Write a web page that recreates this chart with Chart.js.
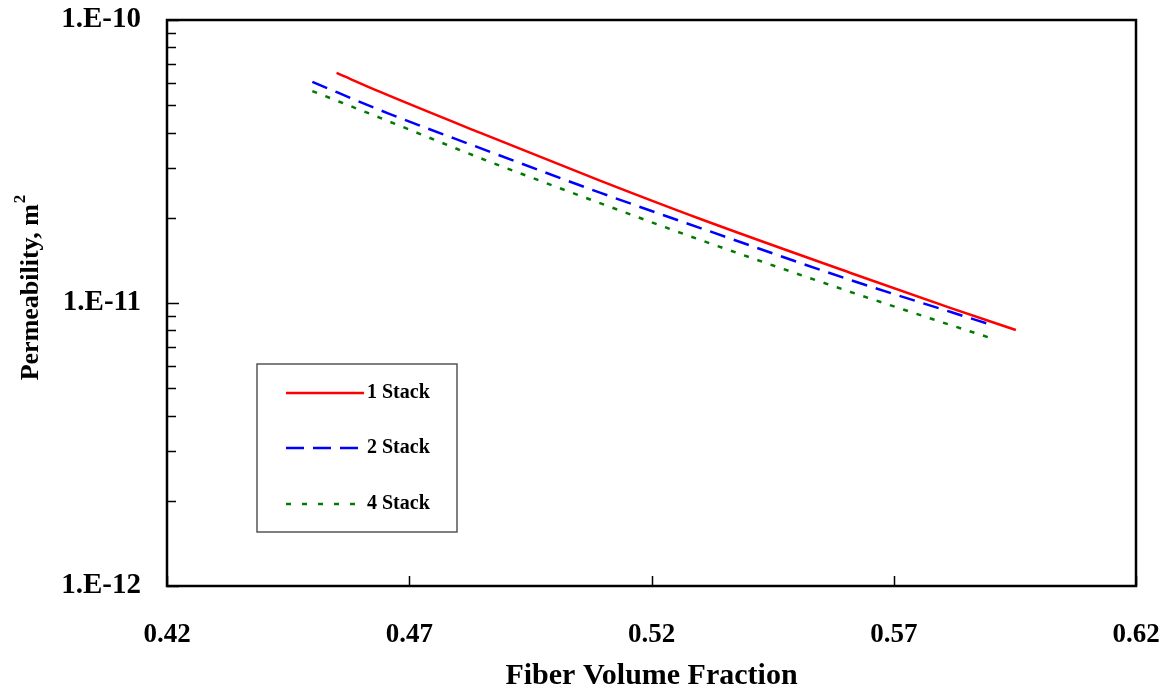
<!DOCTYPE html>
<html>
<head>
<meta charset="utf-8">
<script src="https://cdn.jsdelivr.net/npm/chart.js@4.4.1/dist/chart.umd.min.js"></script>
<style>
  html, body { margin: 0; padding: 0; background: #fff; }
  #wrap { width: 1169px; height: 694px; }
</style>
</head>
<body>
<div id="wrap"><canvas id="c" width="1169" height="694"></canvas></div>
<script>
// === Data ===
const stack1X = [0.455, 0.464, 0.4847, 0.5095, 0.5301, 0.5611, 0.5818, 0.5952];
const stack1Y = [6.50e-11, 5.57e-11, 3.99e-11, 2.70e-11, 1.98e-11, 1.277e-11, 9.59e-12, 8.03e-12];

const stack2X = [0.450, 0.4655, 0.484, 0.5095, 0.5301, 0.5611, 0.5818, 0.5896];
const stack2Y = [6.04e-11, 4.69e-11, 3.56e-11, 2.45e-11, 1.84e-11, 1.205e-11, 9.29e-12, 8.43e-12];

const stack4X = [0.450, 0.464, 0.4847, 0.5095, 0.5301, 0.5611, 0.5818, 0.590];
const stack4Y = [5.61e-11, 4.51e-11, 3.25e-11, 2.25e-11, 1.67e-11, 1.094e-11, 8.35e-12, 7.52e-12];

const xTicks = [0.42, 0.47, 0.52, 0.57, 0.62];
const yMajorTicks = [1e-12, 1e-11, 1e-10];
const yTickLabels = ['1.E-12', '1.E-11', '1.E-10'];

const seriesNames = ['1 Stack', '2 Stack', '4 Stack'];

const FONT = "'Liberation Serif', 'Times New Roman', serif";

function toPoints(xs, ys) {
  return xs.map((x, i) => ({ x: x, y: ys[i] }));
}

// minor + major tick values for the log axis
const yAllTicks = [];
yMajorTicks.forEach((m, i) => {
  yAllTicks.push(m);
  if (i < yMajorTicks.length - 1) {
    for (let k = 2; k <= 9; k++) yAllTicks.push(m * k);
  }
});

// === Frame, inside tick marks, y title and legend box ===
Chart.register({
  id: 'frameAndLegend',
  afterDraw(chart) {
    const ctx = chart.ctx;
    const a = chart.chartArea;
    const xs = chart.scales.x;
    const ys = chart.scales.y;

    ctx.save();
    ctx.strokeStyle = '#000';
    ctx.lineWidth = 1.5;
    // y ticks pointing inward
    yAllTicks.forEach(v => {
      const py = Math.round(ys.getPixelForValue(v)) + 0.5;
      const major = yMajorTicks.some(m => Math.abs(m - v) / m < 1e-6);
      const len = major ? 12 : 9;
      ctx.beginPath();
      ctx.moveTo(a.left, py);
      ctx.lineTo(a.left + len, py);
      ctx.stroke();
    });
    // x ticks pointing up
    xTicks.forEach(v => {
      const px = Math.round(xs.getPixelForValue(v)) + 0.5;
      ctx.beginPath();
      ctx.moveTo(px, a.bottom);
      ctx.lineTo(px, a.bottom - 10);
      ctx.stroke();
    });
    // frame
    ctx.lineWidth = 2.5;
    ctx.strokeRect(a.left, a.top, a.right - a.left, a.bottom - a.top);

    // y title with superscript
    ctx.save();
    ctx.translate(31, 288);
    ctx.rotate(-Math.PI / 2);
    ctx.fillStyle = '#000';
    ctx.textBaseline = 'middle';
    ctx.textAlign = 'left';
    ctx.font = "bold 26px " + FONT;
    const main = 'Permeability, m';
    ctx.font = "bold 26px " + FONT;
    const w1 = ctx.measureText(main).width;
    ctx.font = "bold 17px " + FONT;
    const w2 = ctx.measureText('2').width;
    const start = -(w1 + w2) / 2;
    ctx.font = "bold 26px " + FONT;
    ctx.fillText(main, start, 0);
    ctx.font = "bold 17px " + FONT;
    ctx.fillText('2', start + w1 + 1, -10);
    ctx.restore();

    // legend
    const lx = 257, ly = 364, lw = 200, lh = 168;
    ctx.fillStyle = '#fff';
    ctx.fillRect(lx, ly, lw, lh);
    ctx.lineWidth = 1.5;
    ctx.strokeStyle = '#555';
    ctx.strokeRect(lx, ly, lw, lh);

    const rows = [393, 448, 504];
    chart.data.datasets.forEach((ds, i) => {
      const y = rows[i];
      ctx.strokeStyle = ds.borderColor;
      ctx.lineWidth = ds.borderWidth;
      ctx.setLineDash(ds.legendDash);
      ctx.beginPath();
      ctx.moveTo(286, y);
      ctx.lineTo(364, y);
      ctx.stroke();
      ctx.setLineDash([]);
      ctx.fillStyle = '#000';
      ctx.font = "bold 20px " + FONT;
      ctx.textBaseline = 'middle';
      ctx.textAlign = 'left';
      ctx.fillText(ds.label, 367, y);
    });
    ctx.restore();
  }
});

new Chart(document.getElementById('c'), {
  type: 'line',
  data: {
    datasets: [
      {
        label: seriesNames[0],
        data: toPoints(stack1X, stack1Y),
        borderColor: '#ff0000',
        borderWidth: 2.5,
        borderDash: [],
        legendDash: [],
        pointRadius: 0,
        cubicInterpolationMode: 'monotone',
        fill: false
      },
      {
        label: seriesNames[1],
        data: toPoints(stack2X, stack2Y),
        borderColor: '#0000ff',
        borderWidth: 2.5,
        borderDash: [16, 9],
        legendDash: [18, 9],
        pointRadius: 0,
        cubicInterpolationMode: 'monotone',
        fill: false
      },
      {
        label: seriesNames[2],
        data: toPoints(stack4X, stack4Y),
        borderColor: '#007a00',
        borderWidth: 2.5,
        borderDash: [5, 9],
        legendDash: [5, 11],
        pointRadius: 0,
        cubicInterpolationMode: 'monotone',
        fill: false
      }
    ]
  },
  options: {
    responsive: false,
    animation: false,
    layout: { padding: { top: 20, right: 33, left: 0, bottom: 0 } },
    plugins: {
      legend: { display: false },
      tooltip: { enabled: false }
    },
    scales: {
      x: {
        type: 'linear',
        min: 0.42,
        max: 0.62,
        afterBuildTicks(scale) {
          scale.ticks = xTicks.map(v => ({ value: v }));
        },
        afterFit(scale) {
          scale.height = 108;
          scale.paddingLeft = 0;
          scale.paddingRight = 0;
        },
        grid: { display: false, drawTicks: false },
        border: { display: false },
        ticks: {
          autoSkip: false,
          maxRotation: 0,
          padding: 33,
          color: '#000',
          font: { family: FONT, size: 27, weight: 'bold' },
          callback: v => Number(v).toFixed(2)
        },
        title: {
          display: true,
          text: 'Fiber Volume Fraction',
          color: '#000',
          padding: { top: 0, bottom: 0 },
          font: { family: FONT, size: 30, weight: 'bold' }
        }
      },
      y: {
        type: 'logarithmic',
        min: 1e-12,
        max: 1e-10,
        afterBuildTicks(scale) {
          scale.ticks = yAllTicks.map(v => ({ value: v }));
        },
        afterFit(scale) {
          scale.width = 167;
          scale.paddingTop = 0;
          scale.paddingBottom = 0;
        },
        grid: { display: false, drawTicks: false },
        border: { display: false },
        ticks: {
          autoSkip: false,
          padding: 26,
          color: '#000',
          font: { family: FONT, size: 29, weight: 'bold' },
          callback: function (v) {
            const idx = yMajorTicks.findIndex(m => Math.abs(m - v) / m < 1e-6);
            return idx >= 0 ? yTickLabels[idx] : '';
          }
        }
      }
    }
  }
});
</script>
</body>
</html>
